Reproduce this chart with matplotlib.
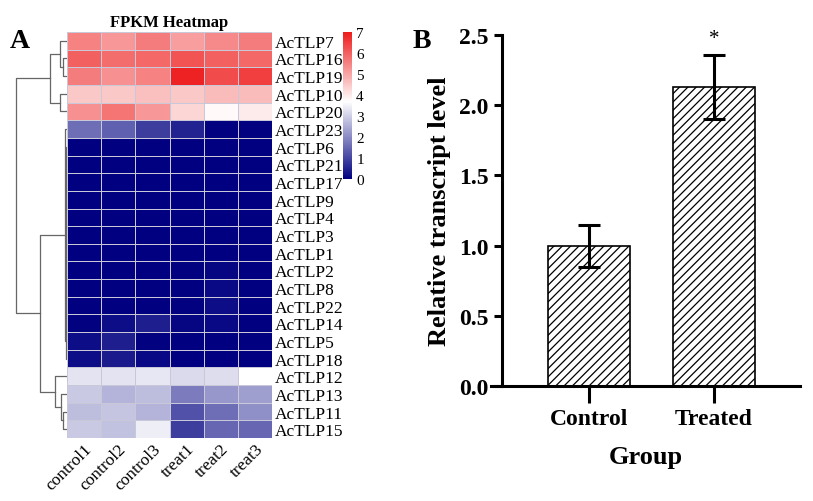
import numpy as np
import matplotlib.pyplot as plt
from matplotlib.colors import LinearSegmentedColormap

plt.rcParams['font.family'] = ['Liberation Serif', 'DejaVu Serif']
plt.rcParams['hatch.linewidth'] = 0.9

genes = ['AcTLP7', 'AcTLP16', 'AcTLP19', 'AcTLP10', 'AcTLP20', 'AcTLP23', 'AcTLP6',
         'AcTLP21', 'AcTLP17', 'AcTLP9', 'AcTLP4', 'AcTLP3', 'AcTLP1', 'AcTLP2', 'AcTLP8',
         'AcTLP22', 'AcTLP14', 'AcTLP5', 'AcTLP18', 'AcTLP12', 'AcTLP13', 'AcTLP11', 'AcTLP15']
samples = ['control1', 'control2', 'control3', 'treat1', 'treat2', 'treat3']
fpkm = np.array([
    [5.5, 5.2, 5.6, 5.1, 5.4, 5.6],
    [6.0, 5.8, 5.9, 6.2, 6.0, 5.9],
    [5.6, 5.3, 5.5, 6.9, 6.3, 6.5],
    [4.5, 4.5, 4.6, 4.5, 4.7, 4.7],
    [5.3, 5.7, 5.2, 4.3, 3.8, 4.0],
    [1.6, 1.4, 0.9, 0.5, 0.05, 0.05],
    [0, 0, 0, 0, 0, 0],
    [0, 0, 0, 0, 0, 0],
    [0, 0, 0, 0, 0, 0],
    [0, 0, 0, 0, 0, 0],
    [0, 0, 0, 0, 0, 0],
    [0, 0, 0, 0, 0, 0],
    [0, 0, 0, 0, 0, 0],
    [0, 0, 0, 0.05, 0.1, 0],
    [0, 0, 0, 0, 0.15, 0],
    [0, 0, 0, 0.05, 0.2, 0],
    [0.05, 0.2, 0.45, 0.1, 0.15, 0],
    [0.2, 0.45, 0.05, 0, 0, 0],
    [0.2, 0.4, 0.15, 0, 0, 0],
    [3.3, 3.3, 3.35, 3.15, 3.2, 3.7],
    [2.9, 2.6, 2.75, 1.8, 2.2, 2.3],
    [2.75, 2.85, 2.6, 1.2, 1.6, 2.1],
    [2.9, 2.8, 3.45, 0.9, 1.5, 1.5],
])

cmap = LinearSegmentedColormap.from_list('bwr2', [(0, '#000080'), (3.7 / 7, '#ffffff'), (1, '#ee1c1c')])

fig = plt.figure(figsize=(8.13, 5.02), dpi=100)

# heatmap
ax = fig.add_axes([0.0824, 0.1255, 0.2522, 0.8088])
n = len(genes)
im = ax.pcolormesh(fpkm, cmap=cmap, vmin=0, vmax=7, edgecolors='#c8c8d8', linewidth=0.6)
ax.set_xlim(0, 6)
ax.set_ylim(n, 0)
ax.yaxis.tick_right()
ax.set_yticks(np.arange(n) + 0.5)
ax.set_yticklabels(genes, fontsize=12.5)
ax.set_xticks(np.arange(6) + 0.5)
ax.set_xticklabels(samples, fontsize=12.5, rotation=45, ha='right', rotation_mode='anchor')
ax.tick_params(length=0, pad=2)
for s in ax.spines.values():
    s.set_visible(False)
ax.set_title('FPKM Heatmap', fontsize=12, fontweight='bold', pad=4)

# colorbar
cax = fig.add_axes([0.422, 0.641, 0.011, 0.293])
cb = fig.colorbar(im, cax=cax, ticks=range(8))
cb.outline.set_visible(False)
cax.tick_params(length=0, labelsize=11, pad=3)

# dendrogram (nested tuples: (left, right, height))
blue = list(range(6, 19))
def chain(idx, h):
    t = idx[0]
    for i in idx[1:]:
        t = (t, i, h)
    return t
tree = (((0, (1, 2, 4), 7), (3, 4, 7), 17),
        ((5, chain(blue, 1.5), 2.5),
         (19, (20, (21, 22, 4), 6), 12), 27),
        52)
dax = fig.add_axes([0.0185, 0.1255, 0.0640, 0.8088])
def draw(node):
    if isinstance(node, int):
        return node + 0.5, 0
    a, b, h = node
    ya, ha = draw(a)
    yb, hb = draw(b)
    dax.plot([ha, h, h, hb], [ya, ya, yb, yb], color='#666666', lw=0.9)
    return (ya + yb) / 2, h
draw(tree)
dax.set_xlim(52.5, 0)
dax.set_ylim(n, 0)
dax.axis('off')

fig.text(0.012, 0.905, 'A', fontsize=20, fontweight='bold')

# bar chart
groups = ['Control', 'Treated']
means = [1.0, 2.13]
errs = [0.15, 0.23]
bx = fig.add_axes([491 / 813, 1 - 387 / 502, 309 / 813, 351 / 502])
bx.spines['left'].set_position(('axes', 11 / 309))
bx.bar(range(2), means, width=0.66, color='white', edgecolor='black', hatch='////', linewidth=1.2)
bx.errorbar(range(2), means, yerr=errs, fmt='none', ecolor='black', elinewidth=2.2, capsize=8, capthick=2.2)
bx.text(1, means[1] + errs[1] + 0.05, '*', ha='center', va='bottom', fontsize=15)
bx.set_xlim(-0.784, 1.69)
bx.set_ylim(0, 2.5)
bx.set_yticks(np.arange(0, 2.6, 0.5))
bx.set_yticklabels([f'{v:.1f}' for v in np.arange(0, 2.6, 0.5)])
bx.set_xticks(range(2))
bx.set_xticklabels(groups)
for lab in bx.get_xticklabels() + bx.get_yticklabels():
    lab.set_fontweight('bold')
    lab.set_fontsize(17)
bx.tick_params(width=2.2, length=6)
bx.tick_params(axis='x', length=12)
bx.spines['top'].set_visible(False)
bx.spines['right'].set_visible(False)
bx.spines['left'].set_linewidth(2.2)
bx.spines['bottom'].set_linewidth(2.2)
bx.set_ylabel('Relative transcript level', fontsize=19, fontweight='bold', labelpad=6)
bx.set_xlabel('Group', fontsize=19, fontweight='bold', labelpad=12)
fig.text(0.508, 0.905, 'B', fontsize=20, fontweight='bold')

fig.savefig('out.png', dpi=100)
